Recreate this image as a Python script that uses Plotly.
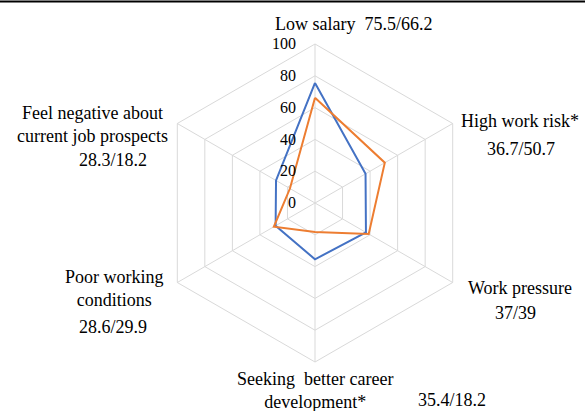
import plotly.graph_objects as go

categories = ["Low salary", "High work risk*", "Work pressure",
              "Seeking better career development*", "Poor working conditions",
              "Feel negative about current job prospects"]
series_a = [75.5, 36.7, 37, 35.4, 28.6, 28.3]
series_b = [66.2, 50.7, 39, 18.2, 29.9, 18.2]
radial_ticks = [0, 20, 40, 60, 80, 100]

# label text shown around the chart (category name + both values)
label_texts = [
    "Low salary  75.5/66.2",
    "High work risk*",
    "36.7/50.7",
    "Work pressure",
    "37/39",
    "Seeking  better career<br>development*",
    "35.4/18.2",
    "Poor working<br>conditions",
    "28.6/29.9",
    "Feel negative about<br>current job prospects",
    "28.3/18.2",
]
label_pos = [
    (353, 24), (520, 121), (521, 149), (520, 288), (515, 313),
    (315, 390), (452, 400), (114, 288), (113, 327), (92, 124), (113, 160),
]

W, H = 585, 411
cats_closed = categories + categories[:1]

# radial tick labels sit a little left of the axis: add a blank suffix
FIG_SPACE = '\u2007'
tick_text = [str(v) + FIG_SPACE * 2 for v in radial_ticks]

fig = go.Figure()
fig.add_trace(go.Scatterpolar(
    r=series_a + series_a[:1], theta=cats_closed, mode='lines',
    line=dict(color='#4472C4', width=2), showlegend=False
))
fig.add_trace(go.Scatterpolar(
    r=series_b + series_b[:1], theta=cats_closed, mode='lines',
    line=dict(color='#ED7D31', width=2), showlegend=False
))

fig.update_layout(
    width=W, height=H,
    margin=dict(l=0, r=0, t=0, b=0),
    paper_bgcolor='white',
    font=dict(family='Liberation Serif', size=18, color='black'),
    showlegend=False,
    polar=dict(
        domain=dict(x=[156 / W, 474 / W], y=[49 / H, 367 / H]),
        bgcolor='white',
        gridshape='linear',
        angularaxis=dict(
            direction='clockwise', rotation=90,
            showticklabels=False, ticks='',
            showline=True, linecolor='#d9d9d9', linewidth=1,
            showgrid=True, gridcolor='#d9d9d9', gridwidth=1,
        ),
        radialaxis=dict(
            range=[0, 100], tickmode='array', tickvals=radial_ticks, ticktext=tick_text,
            angle=90, tickangle=90, side='counterclockwise',
            showline=False, ticks='', showgrid=True,
            gridcolor='#d9d9d9', gridwidth=1,
            tickfont=dict(family='Liberation Serif', size=16, color='black'),
        ),
    ),
)

for text, (x, y) in zip(label_texts, label_pos):
    fig.add_annotation(
        x=x / W, y=1 - y / H, xref='paper', yref='paper', text=text,
        showarrow=False, xanchor='center', yanchor='middle',
        font=dict(family='Liberation Serif', size=18, color='black'),
    )

# black rule across the top
fig.add_shape(type='line', xref='paper', yref='paper',
              x0=0, x1=1, y0=1 - 1.5 / H, y1=1 - 1.5 / H,
              line=dict(color='black', width=2))

# drop the browser's default body margin so the figure sits at (0, 0)
fig.write_html("out.html", config={'displayModeBar': False},
               post_script="document.body.style.margin = '0';")
